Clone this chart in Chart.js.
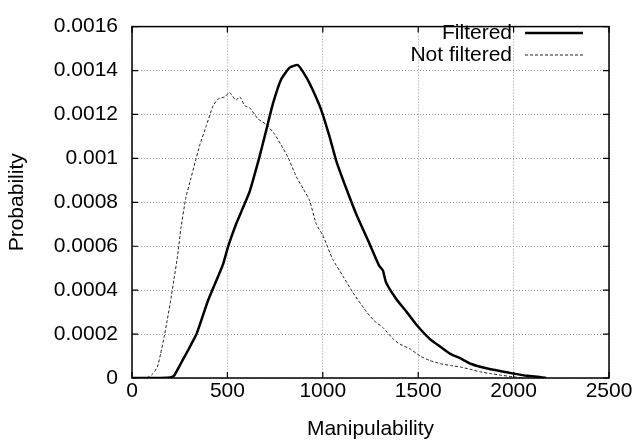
<!DOCTYPE html>
<html>
<head>
<meta charset="utf-8">
<script src="https://cdn.jsdelivr.net/npm/chart.js@4.4.1/dist/chart.umd.min.js"></script>
<style>
  html, body { margin: 0; padding: 0; background: #fff; }
  #wrap { width: 634px; height: 445px; }
</style>
</head>
<body>
<div id="wrap"><canvas id="chart" width="634" height="445"></canvas></div>
<script>
// axis ticks
const xTicks = [0, 500, 1000, 1500, 2000, 2500];
const xTickLabels = ["0", "500", "1000", "1500", "2000", "2500"];
const yTicks = [0, 0.0002, 0.0004, 0.0006, 0.0008, 0.001, 0.0012, 0.0014, 0.0016];
const yTickLabels = ["0", "0.0002", "0.0004", "0.0006", "0.0008", "0.001", "0.0012", "0.0014", "0.0016"];

// Filtered (solid)
const filteredX = [0, 100, 150, 200, 220, 251, 290, 338, 399, 450, 477, 504, 545, 582, 617, 669, 704, 739, 782, 826, 869, 913, 948, 992, 1035, 1070, 1122, 1175, 1244, 1296, 1315, 1331, 1384, 1440, 1493, 1563, 1620, 1668, 1720, 1774, 1830, 1879, 1940, 2001, 2070, 2142, 2170];
const filteredY = [0, 0, 0, 0.000002, 0.00001, 0.000058, 0.00012, 0.0002, 0.000354, 0.00046, 0.000517, 0.000599, 0.0007, 0.000776, 0.00085, 0.00101, 0.00113, 0.00125, 0.00136, 0.001413, 0.001425, 0.00137, 0.00131, 0.00122, 0.0011, 0.00099, 0.000865, 0.000747, 0.000613, 0.00051, 0.00049, 0.000436, 0.000361, 0.0003, 0.00024, 0.000176, 0.00014, 0.00011, 0.00009, 0.000065, 0.00005, 0.00004, 0.00003, 0.00002, 0.00001, 0.000004, 0];

// Not filtered (dashed)
const notFilteredX = [0, 60, 89, 110, 133, 150, 168, 186, 204, 220, 238, 256, 282, 309, 330, 355, 390, 425, 451, 486, 512, 544, 565, 591, 617, 660, 704, 748, 782, 817, 861, 895, 930, 966, 1000, 1052, 1105, 1157, 1230, 1270, 1317, 1370, 1405, 1458, 1510, 1560, 1616, 1670, 1721, 1770, 1826, 1880, 1932, 2000, 2050];
const notFilteredY = [0, 0, 0.000005, 0.00002, 0.00005, 0.00011, 0.000184, 0.00027, 0.00036, 0.00045, 0.00055, 0.00068, 0.00082, 0.00091, 0.00098, 0.00106, 0.00115, 0.00124, 0.00127, 0.00128, 0.0013, 0.001265, 0.00128, 0.00124, 0.00123, 0.00118, 0.001154, 0.00111, 0.00106, 0.001006, 0.000917, 0.000865, 0.00081, 0.0007, 0.00065, 0.00054, 0.000465, 0.00039, 0.0003, 0.00026, 0.000228, 0.000176, 0.000154, 0.000132, 0.0001, 0.00008, 0.000065, 0.000057, 0.00005, 0.00004, 0.000028, 0.00002, 0.000013, 0.000005, 0];

const FONT = "'Liberation Sans', Arial, Helvetica, sans-serif";

const toPoints = (xs, ys) => xs.map((x, i) => ({ x: x, y: ys[i] }));

// gnuplot-like frame with inward tick marks
const framePlugin = {
  id: "frame",
  afterDatasetsDraw(chart) {
    const { ctx, chartArea: a, scales } = chart;
    ctx.save();
    ctx.strokeStyle = "#000";
    ctx.lineWidth = 1.5;
    ctx.strokeRect(a.left, a.top, a.right - a.left, a.bottom - a.top);
    ctx.lineWidth = 1.2;
    ctx.beginPath();
    xTicks.forEach(v => {
      const px = scales.x.getPixelForValue(v);
      ctx.moveTo(px, a.bottom); ctx.lineTo(px, a.bottom - 6);
      ctx.moveTo(px, a.top); ctx.lineTo(px, a.top + 6);
    });
    yTicks.forEach(v => {
      const py = scales.y.getPixelForValue(v);
      ctx.moveTo(a.left, py); ctx.lineTo(a.left + 6, py);
      ctx.moveTo(a.right, py); ctx.lineTo(a.right - 6, py);
    });
    ctx.stroke();
    ctx.restore();
  }
};

// legend with text left of the line sample
const keyPlugin = {
  id: "key",
  afterDraw(chart) {
    const ctx = chart.ctx;
    const textRight = 512, lineL = 525, lineR = 583;
    ctx.save();
    ctx.font = "21px " + FONT;
    ctx.fillStyle = "#000";
    ctx.textAlign = "right";
    ctx.textBaseline = "middle";
    chart.data.datasets.forEach((ds, i) => {
      const y = 33 + i * 22;
      ctx.fillText(ds.label, textRight, y);
      ctx.beginPath();
      ctx.strokeStyle = ds.borderColor;
      ctx.lineWidth = ds.borderWidth;
      ctx.setLineDash(ds.borderDash || []);
      ctx.moveTo(lineL, y); ctx.lineTo(lineR, y);
      ctx.stroke();
    });
    ctx.restore();
  }
};

new Chart(document.getElementById("chart"), {
  type: "line",
  plugins: [framePlugin, keyPlugin],
  data: {
    datasets: [
      {
        label: "Filtered",
        data: toPoints(filteredX, filteredY),
        borderColor: "#000",
        borderWidth: 2.5,
        pointRadius: 0,
        tension: 0.15,
        fill: false
      },
      {
        label: "Not filtered",
        data: toPoints(notFilteredX, notFilteredY),
        borderColor: "#222",
        borderWidth: 1,
        borderDash: [3, 2],
        pointRadius: 0,
        tension: 0.15,
        fill: false
      }
    ]
  },
  options: {
    responsive: false,
    animation: false,
    layout: { padding: { left: 0, right: 25, top: 17, bottom: 0 } },
    plugins: {
      legend: { display: false },
      tooltip: { enabled: false }
    },
    scales: {
      x: {
        type: "linear",
        min: 0,
        max: 2500,
        afterBuildTicks: (s) => { s.ticks = xTicks.map(v => ({ value: v })); },
        afterFit: (s) => { s.height = 67; },
        ticks: {
          color: "#000",
          font: { family: FONT, size: 21 },
          padding: 1,
          maxRotation: 0,
          callback: (v, i) => xTickLabels[i]
        },
        grid: { color: "#9a9a9a", lineWidth: 1, drawTicks: false },
        border: { display: false, dash: [1, 2] },
        title: {
          display: true,
          text: "Manipulability",
          color: "#000",
          font: { family: FONT, size: 21 },
          padding: { top: 0, bottom: 3 }
        }
      },
      y: {
        min: 0,
        max: 0.0016,
        afterBuildTicks: (s) => { s.ticks = yTicks.map(v => ({ value: v })); },
        afterFit: (s) => { s.width = 132; },
        ticks: {
          color: "#000",
          font: { family: FONT, size: 21 },
          padding: 14,
          callback: (v, i) => yTickLabels[i]
        },
        grid: { color: "#9a9a9a", lineWidth: 1, drawTicks: false },
        border: { display: false, dash: [1, 2] },
        title: {
          display: true,
          text: "Probability",
          color: "#000",
          font: { family: FONT, size: 21 },
          padding: { top: 5, bottom: 0 }
        }
      }
    }
  }
});
</script>
</body>
</html>
